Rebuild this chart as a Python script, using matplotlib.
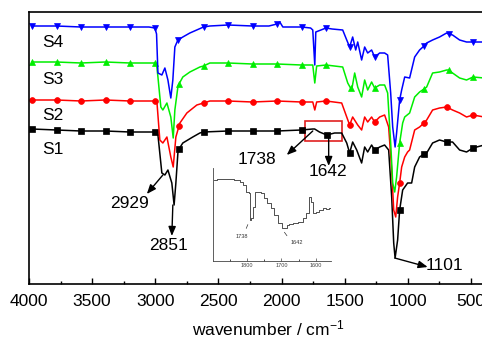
import numpy as np
import matplotlib
matplotlib.use("Agg")
import matplotlib.pyplot as plt
from matplotlib.patches import Rectangle

plt.rcParams['font.family'] = ['Liberation Sans', 'DejaVu Sans']
plt.rcParams['mathtext.fontset'] = 'custom'
plt.rcParams['mathtext.rm'] = 'Liberation Sans'
plt.rcParams['mathtext.it'] = 'Liberation Sans'
plt.rcParams['axes.unicode_minus'] = False

# ---------------- data (arbitrary transmittance units) ----------------
s4_wn = [3976, 3782, 3588, 3394, 3200, 3050, 3003, 2990, 2979, 2948, 2924, 2900, 2877, 2861, 2845, 2821,
         2782, 2726, 2618, 2568, 2424, 2230, 2100, 2036, 2014, 1990, 1842, 1770, 1753, 1737, 1729, 1648,
         1600, 1516, 1484, 1461, 1437, 1413, 1397, 1366, 1342, 1318, 1287, 1263, 1223, 1184, 1160, 1136,
         1120, 1101, 1089, 1065, 1049, 1025, 986, 946, 907, 872, 851, 804, 749, 693, 678, 646, 590, 535, 484, 395]
s4_val = [258, 258, 257, 257, 257, 257, 256, 250, 211, 209, 216, 204, 186, 204, 237, 244,
          247, 251, 257, 258, 259, 258, 258, 260, 262, 257, 257, 256, 254, 219, 252, 256,
          255, 254, 244, 237, 247, 234, 242, 224, 237, 231, 234, 227, 231, 231, 229, 191,
          157, 137, 151, 184, 194, 207, 206, 227, 234, 238, 241, 244, 247, 251, 250, 249, 244, 242, 242, 242]

s3_wn = [3976, 3782, 3588, 3394, 3200, 3003, 2990, 2979, 2956, 2940, 2908, 2877, 2858, 2845, 2821, 2812,
         2782, 2726, 2647, 2618, 2568, 2424, 2230, 2036, 1842, 1753, 1737, 1722, 1648, 1516, 1476, 1454,
         1445, 1421, 1397, 1366, 1342, 1318, 1287, 1263, 1223, 1184, 1160, 1136, 1120, 1104, 1089, 1065,
         1041, 1025, 986, 946, 907, 872, 851, 804, 749, 693, 678, 646, 590, 535, 484, 395]
s3_val = [222, 222, 221, 222, 221, 221, 220, 207, 177, 174, 181, 167, 146, 174, 197, 200,
          207, 212, 217, 218, 221, 221, 220, 220, 219, 219, 201, 218, 219, 217, 201, 196,
          194, 211, 197, 187, 204, 194, 202, 196, 199, 199, 191, 141, 101, 92, 107, 141,
          161, 167, 171, 187, 192, 195, 197, 211, 212, 214, 214, 211, 206, 204, 207, 206]

s2_wn = [3976, 3782, 3588, 3394, 3200, 3003, 2987, 2964, 2940, 2908, 2877, 2858, 2837, 2812, 2805, 2750,
         2671, 2618, 2568, 2424, 2230, 2036, 1842, 1753, 1737, 1722, 1648, 1524, 1484, 1461, 1437, 1397,
         1366, 1342, 1318, 1287, 1263, 1223, 1184, 1152, 1128, 1112, 1096, 1081, 1065, 1049, 1025, 1002,
         986, 946, 907, 872, 851, 804, 749, 693, 646, 590, 535, 484, 395]
s2_val = [184, 184, 183, 184, 183, 183, 182, 144, 141, 147, 127, 117, 147, 158, 161, 171,
          179, 181, 183, 183, 182, 183, 182, 182, 174, 182, 183, 181, 167, 159, 167, 159,
          154, 167, 162, 167, 162, 167, 169, 157, 114, 74, 67, 87, 101, 117, 127, 132,
          134, 154, 157, 161, 164, 174, 176, 177, 174, 171, 167, 169, 167]

s1_wn = [3976, 3782, 3588, 3394, 3200, 3003, 2979, 2948, 2924, 2900, 2869, 2851, 2837, 2821, 2812, 2782,
         2703, 2647, 2618, 2424, 2230, 2036, 1842, 1753, 1738, 1700, 1642, 1580, 1524, 1484, 1461, 1437,
         1405, 1366, 1342, 1318, 1287, 1263, 1223, 1184, 1152, 1128, 1112, 1101, 1081, 1065, 1041, 1002,
         970, 946, 907, 872, 851, 804, 749, 693, 646, 590, 535, 484, 395]
s1_val = [155, 154, 153, 153, 152, 152, 149, 111, 109, 114, 101, 79, 101, 131, 135, 141,
          147, 151, 152, 153, 153, 153, 154, 155, 155, 152, 149, 151, 151, 141, 131, 142,
          134, 121, 137, 132, 139, 134, 137, 139, 134, 87, 41, 26, 44, 74, 94, 101,
          101, 117, 127, 130, 131, 141, 144, 142, 142, 134, 132, 136, 139]

series_names = ["S1", "S2", "S3", "S4"]

# inset (enlarged S1 region 1900-1550 cm-1)
ins_wn = [1896, 1879, 1849, 1829, 1815, 1808, 1797, 1792, 1790, 1785, 1782, 1779, 1773, 1763, 1756, 1746,
          1736, 1726, 1717, 1702, 1692, 1687, 1681, 1673, 1658, 1643, 1633, 1624, 1616, 1609, 1604, 1594,
          1584, 1575, 1565, 1555]
ins_val = [81, 81.7, 82, 81, 79.3, 76, 69.3, 67.7, 41, 42.7, 54.3, 54.3, 69.3, 69.3, 67.7, 62.7,
           57.7, 52.7, 46, 37.7, 32.7, 32.7, 36, 37, 37.7, 39.3, 42.7, 47.7, 64.3, 59.3, 47.7, 49.3,
           51, 52.7, 51.7, 52.7]

x_ticks = [4000, 3500, 3000, 2500, 2000, 1500, 1000, 500]
inset_ticks = [1800, 1700, 1600]

# ---------------- figure ----------------
fig = plt.figure(figsize=(4.82, 3.38), dpi=100)
ax = fig.add_axes([29 / 482, 54 / 338, 455 / 482, 272 / 338])
ax.set_xlim(4000, 397)
ax.set_ylim(0, 272)

styles = [
    (s1_wn, s1_val, 'black', 's', "S1"),
    (s2_wn, s2_val, '#ff0000', 'o', "S2"),
    (s3_wn, s3_val, '#00ee00', '^', "S3"),
    (s4_wn, s4_val, '#0000ff', 'v', "S4"),
]
grid = np.arange(3976, 420, -194)
for wn, val, col, mk, name in styles:
    wn_a = np.asarray(wn)
    idx = sorted(set(int(np.argmin(np.abs(wn_a - g))) for g in grid))
    ax.plot(wn, val, color=col, lw=1.1, marker=mk, markersize=4.2,
            markevery=idx, markeredgewidth=0.5)

label_y = {"S4": 241.5, "S3": 205, "S2": 168, "S1": 134}
for name in series_names:
    ax.text(3897, label_y[name], name, fontsize=12.5, ha='left', va='center')

ax.set_xticks(x_ticks)
ax.set_xticks(np.arange(3750, 400, -500), minor=True)
ax.tick_params(axis='x', which='major', direction='in', length=4, width=1, labelsize=12.5, pad=7)
ax.tick_params(axis='x', which='minor', direction='in', length=2.5, width=1)
ax.set_yticks([])
for sp in ax.spines.values():
    sp.set_linewidth(1.2)
ax.spines['right'].set_visible(False)
ax.set_xlabel("wavenumber / cm$^{-1}$", fontsize=12.5)
ax.xaxis.set_label_coords(0.525, -0.125)

# annotations
arrow_kw = dict(arrowstyle='-|>,head_length=0.55,head_width=0.22', color='black', lw=1.0,
                shrinkA=0, shrinkB=0)
ann = [
    ("2929", (2940, 109), (3067, 90), (3201, 80)),
    ("2851", (2861, 79), (2869, 48), (2892, 38)),
    ("1101", (1104, 26), (843, 17), (709, 18)),
    ("1738", (1753, 153), (1959, 129), (2196, 125)),
    ("1642", (1627, 146), (1627, 118), (1635, 113)),
]
for txt, tail, head, pos in ann:
    ax.annotate('', xy=head, xytext=tail, arrowprops=arrow_kw)
    ax.text(pos[0], pos[1], txt, fontsize=12.5, ha='center', va='center')

ax.add_patch(Rectangle((1816, 143), 1524 - 1816, 20, fill=False, edgecolor='#e02020', lw=1.2))

# inset
axi = fig.add_axes([213 / 482, 77 / 338, 118 / 482, 93 / 338])
axi.patch.set_alpha(0)
axi.plot(ins_wn, ins_val, color='#333333', lw=0.6, drawstyle='steps-mid')
axi.set_xlim(1900, 1555)
axi.set_ylim(0, 93)
axi.set_xticks(inset_ticks)
axi.set_xticks([1850, 1750, 1650], minor=True)
axi.set_yticks([])
axi.spines['top'].set_visible(False)
axi.spines['right'].set_visible(False)
for sp in ('left', 'bottom'):
    axi.spines[sp].set_linewidth(0.6)
    axi.spines[sp].set_color('#444444')
axi.tick_params(axis='x', which='major', direction='in', length=2, width=0.5, labelsize=4,
                pad=1.5, colors='#444444')
axi.tick_params(axis='x', which='minor', direction='in', length=1.2, width=0.5)
small_kw = dict(arrowstyle='-', color='#333333', lw=0.5)
axi.annotate('', xy=(1806, 30), xytext=(1795, 39), arrowprops=small_kw)
axi.text(1815, 24, "1738", fontsize=4, ha='center', va='center', color='#333333')
axi.annotate('', xy=(1679, 23), xytext=(1696, 31), arrowprops=small_kw)
axi.text(1656, 18, "1642", fontsize=4, ha='center', va='center', color='#333333')

fig.savefig("out.png", dpi=100)
